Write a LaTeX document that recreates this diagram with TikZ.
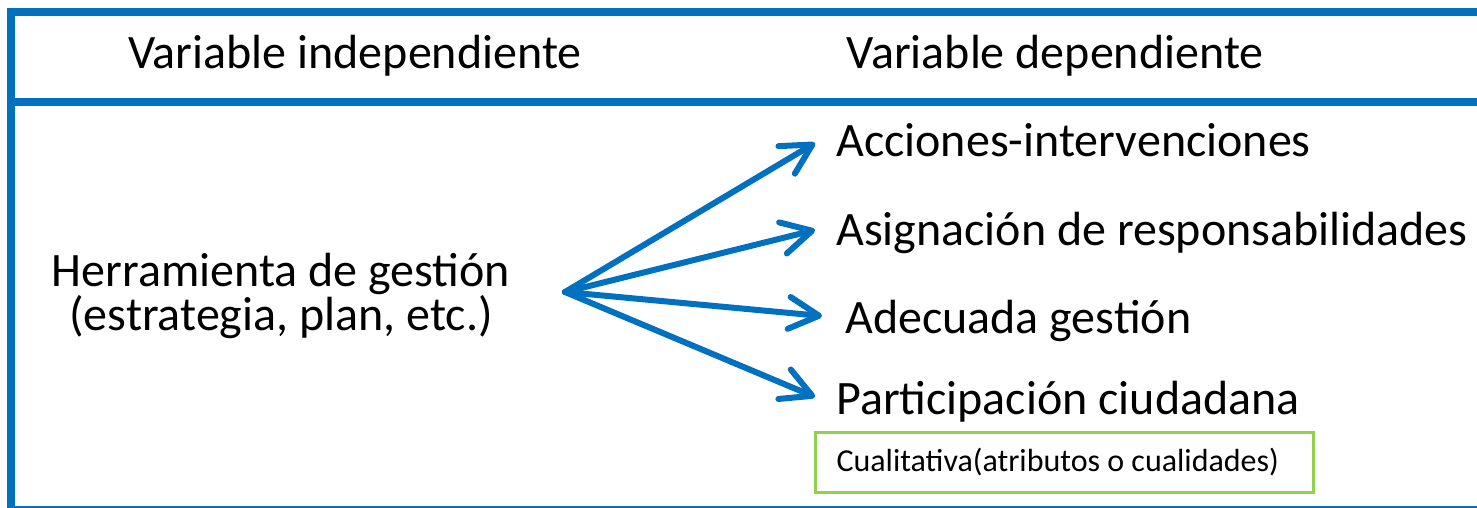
\documentclass[tikz,border=0pt]{standalone}
\usepackage{fontspec}
\setmainfont{Carlito}
\usetikzlibrary{arrows.meta, positioning}
\definecolor{frameblue}{HTML}{0070C0}
\definecolor{boxgreen}{HTML}{92D050}
\tikzstyle{arrow} = [frameblue, line width=6pt, line cap=round, -{Straight Barb[length=30pt, width=32pt, round]}]
\tikzstyle{header} = [inner sep=0pt, anchor=base, font=\fontsize{48}{56}\selectfont]
\tikzstyle{item} = [inner sep=0pt, anchor=base west, font=\fontsize{48}{56}\selectfont]
\tikzset{
	frame/.style = {frameblue, line width=8pt},
	notebox/.style = {draw=boxgreen, line width=3pt, anchor=north west,
		minimum height=60pt, inner xsep=21pt, text width=456pt, align=flush left,
		font=\fontsize{32}{36}\selectfont},
}

\begin{document}
\begin{tikzpicture}[x=1pt, y=-1pt]
\useasboundingbox (0,0) rectangle (1477,508);
% Frame of the table
\draw [frame] (11,508) -- (11,12) -- (1477,12);
\draw [frame] (11,102.5) -- (1477,102.5);
\draw [frameblue, line width=2pt] (11,507) -- (1477,507);

% Placement of nodes
\node (indep) [header] at (355,69) {Variable independiente};
\node (dep) [header] at (1055,69) {Variable dependiente};
\node (tool) [inner sep=0pt, align=center, font=\fontsize{48}{44}\selectfont] at (281,296) {Herramienta de gestión\\(estrategia, plan, etc.)};
\coordinate (src) at (565,292);
\node (acc) [item] at (836,157) {Acciones-intervenciones};
\node (asig) [item] at (836,245) {Asignación de responsabilidades};
\node (adec) [item] at (845,333) {Adecuada gestión};
\node (part) [item] at (836,414) {Participación ciudadana};
\node (qual) [notebox] at (814,431) {Cualitativa(atributos o cualidades)};

% Placement of edges
\draw [arrow] (src) -- ([shift={(-21pt,14pt)}]acc.base west);
\draw [arrow] (src) -- ([shift={(-21pt,15pt)}]asig.base west);
\draw [arrow] (src) -- ([shift={(-23pt,17pt)}]adec.base west);
\draw [arrow] (src) -- ([shift={(-21pt,17pt)}]part.base west);

\end{tikzpicture}
\end{document}
